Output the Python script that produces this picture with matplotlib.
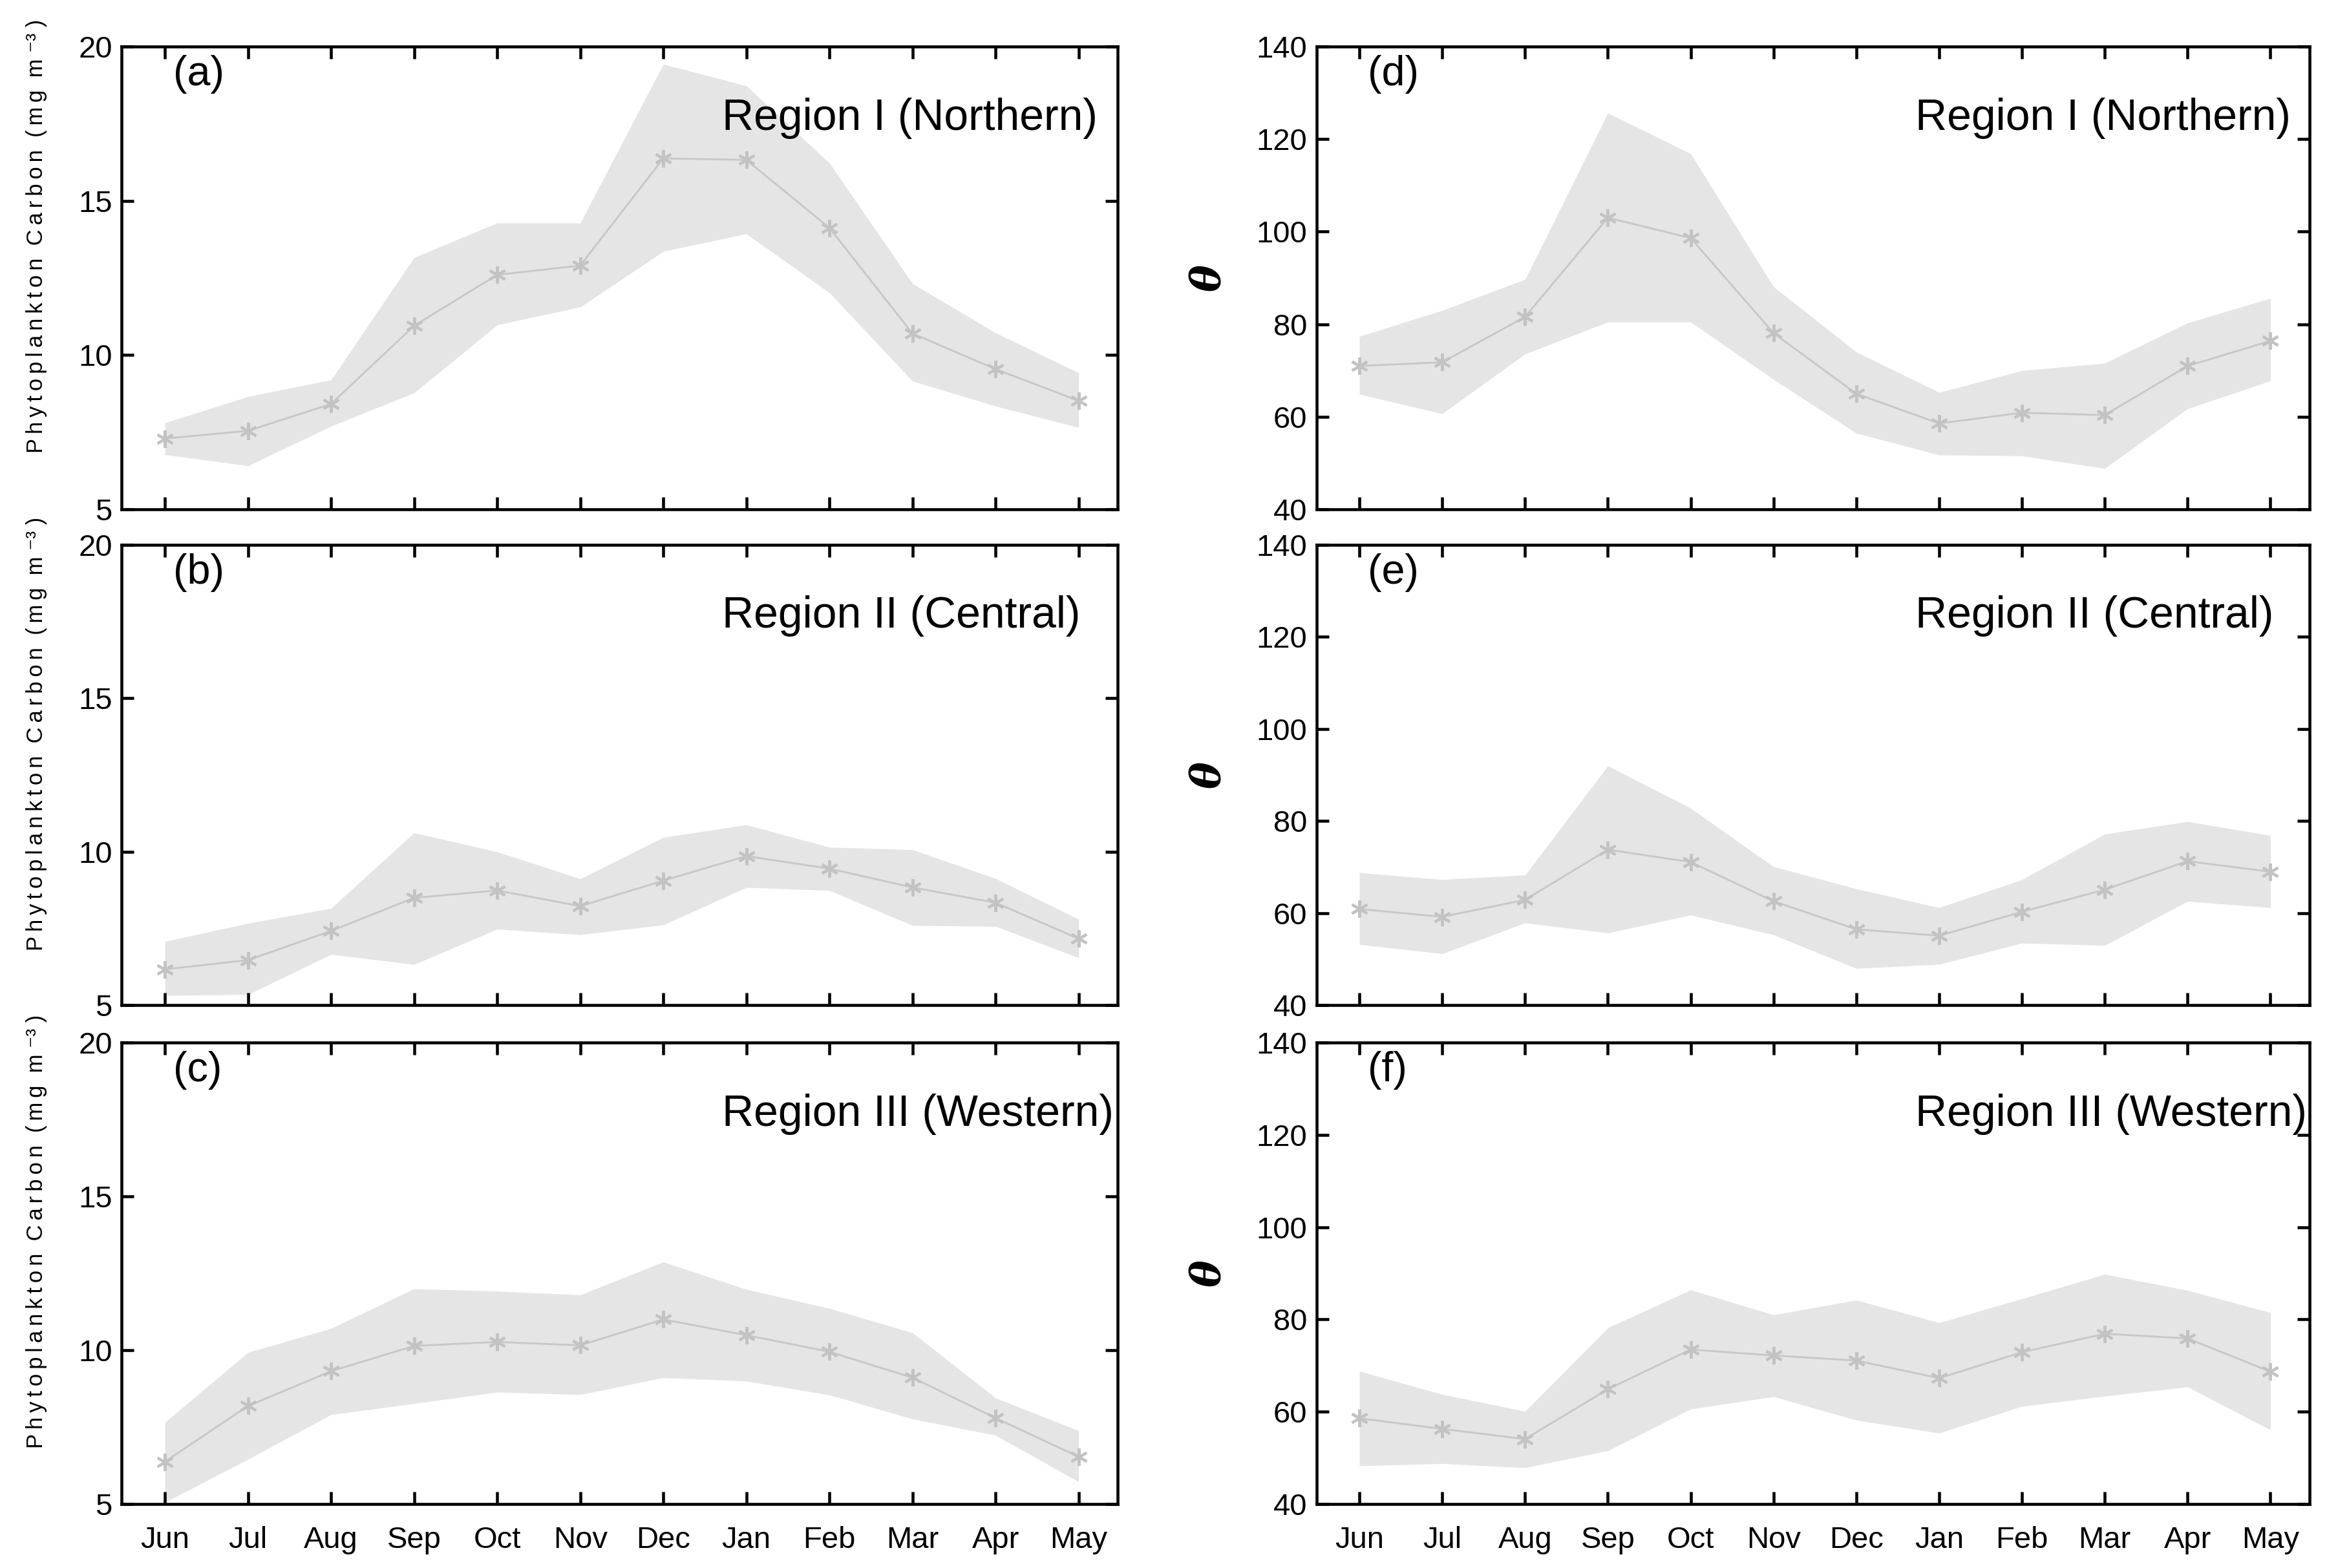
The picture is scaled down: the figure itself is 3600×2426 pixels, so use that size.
import matplotlib
matplotlib.use("Agg")
import matplotlib.pyplot as plt

plt.rcParams['font.family'] = ['Liberation Sans', 'DejaVu Sans']

months = ['Jun', 'Jul', 'Aug', 'Sep', 'Oct', 'Nov', 'Dec', 'Jan', 'Feb', 'Mar', 'Apr', 'May']
regions = ['Region I (Northern)', 'Region II (Central)', 'Region III (Western)']

# phytoplankton carbon, mean and envelope
carbon_mean_1 = [7.3, 7.55, 8.42, 10.95, 12.6, 12.9, 16.37, 16.32, 14.12, 10.7, 9.55, 8.52]
carbon_up_1 = [7.81, 8.66, 9.2, 13.16, 14.28, 14.28, 19.42, 18.72, 16.22, 12.32, 10.72, 9.43]
carbon_lo_1 = [6.78, 6.42, 7.7, 8.78, 10.98, 11.56, 13.36, 13.93, 12.02, 9.16, 8.35, 7.66]

carbon_mean_2 = [6.17, 6.47, 7.42, 8.5, 8.74, 8.23, 9.06, 9.86, 9.45, 8.84, 8.34, 7.17]
carbon_up_2 = [7.08, 7.67, 8.16, 10.62, 10.0, 9.12, 10.47, 10.88, 10.15, 10.07, 9.13, 7.8]
carbon_lo_2 = [5.32, 5.35, 6.66, 6.33, 7.48, 7.3, 7.62, 8.84, 8.74, 7.6, 7.57, 6.55]

carbon_mean_3 = [6.38, 8.19, 9.32, 10.14, 10.27, 10.16, 11.0, 10.49, 9.95, 9.11, 7.8, 6.54]
carbon_up_3 = [7.66, 9.93, 10.71, 12.0, 11.92, 11.8, 12.87, 11.98, 11.36, 10.57, 8.45, 7.39]
carbon_lo_3 = [5.06, 6.46, 7.91, 8.27, 8.64, 8.56, 9.11, 9.0, 8.55, 7.77, 7.24, 5.73]

# theta, mean and envelope
theta_mean_1 = [71.0, 71.8, 81.6, 103.0, 98.6, 78.1, 65.0, 58.6, 60.9, 60.4, 71.0, 76.4]
theta_up_1 = [77.4, 83.0, 89.7, 125.6, 116.8, 88.1, 74.0, 65.3, 70.0, 71.6, 80.3, 85.6]
theta_lo_1 = [64.9, 60.7, 73.6, 80.5, 80.5, 68.1, 56.5, 51.8, 51.6, 48.9, 61.8, 67.8]

theta_mean_2 = [60.9, 59.2, 62.9, 73.8, 71.1, 62.6, 56.5, 55.1, 60.3, 65.1, 71.3, 69.0]
theta_up_2 = [68.8, 67.3, 68.3, 92.0, 82.8, 70.1, 65.3, 61.2, 67.3, 77.2, 79.9, 76.9]
theta_lo_2 = [53.2, 51.2, 57.9, 55.7, 59.6, 55.3, 48.0, 48.9, 53.5, 53.0, 62.6, 61.2]

theta_mean_3 = [58.6, 56.3, 54.1, 64.9, 73.5, 72.2, 71.1, 67.3, 72.9, 76.9, 75.9, 68.7]
theta_up_3 = [68.8, 63.8, 60.1, 78.2, 86.4, 81.0, 84.2, 79.3, 84.5, 89.8, 86.3, 81.5]
theta_lo_3 = [48.3, 48.8, 47.9, 51.6, 60.6, 63.3, 58.2, 55.4, 61.2, 63.4, 65.4, 56.1]

carbon = [(carbon_mean_1, carbon_up_1, carbon_lo_1),
          (carbon_mean_2, carbon_up_2, carbon_lo_2),
          (carbon_mean_3, carbon_up_3, carbon_lo_3)]
theta = [(theta_mean_1, theta_up_1, theta_lo_1),
         (theta_mean_2, theta_up_2, theta_lo_2),
         (theta_mean_3, theta_up_3, theta_lo_3)]

fig = plt.figure(figsize=(12, 8.0867), dpi=300)

rows_bottom = [0.675, 0.3589, 0.0407]
rows_height = [0.2955, 0.2936, 0.2945]
x = list(range(len(months)))
star = (6, 2, 0)

# letter-spaced y label like the original
sp = '\u2009'
ylab_carbon = '  '.join(sp.join(w) for w in ['Phytoplankton', 'Carbon', '(mg', 'm']) + \
    ' \u207b\u00b3 )'


def draw(ax, mean, up, lo, ylim, yticks, label, region):
    ax.fill_between(x, lo, up, color='#e5e5e5', linewidth=0)
    ax.plot(x, mean, color='#c8c8c8', linewidth=0.7, marker=star,
            markersize=6.5, markeredgewidth=1.0, markeredgecolor='#c3c3c3')
    ax.set_xlim(-0.52, 11.47)
    ax.set_ylim(*ylim)
    ax.set_yticks(yticks)
    ax.set_xticks(x)
    ax.tick_params(direction='in', top=True, right=True, length=4.5, width=1.1,
                   labelsize=11.3)
    for s in ax.spines.values():
        s.set_linewidth(1.1)
    ax.text(0.052, 0.94, label, transform=ax.transAxes, fontsize=15.5,
            ha='left', va='center')
    ax.text(0.603, 0.845, region, transform=ax.transAxes, fontsize=16.3,
            ha='left', va='center')
    return ax


labels_left = ['(a)', '(b)', '(c)']
labels_right = ['(d)', '(e)', '(f)']

for i in range(3):
    axl = fig.add_axes([0.0523, rows_bottom[i], 0.428, rows_height[i]])
    m, u, l = carbon[i]
    draw(axl, m, u, l, (5, 20), [5, 10, 15, 20], labels_left[i], regions[i])
    axl.set_ylabel(ylab_carbon, fontsize=8.3)
    axl.yaxis.set_label_coords(-0.075, 0.59)

    axr = fig.add_axes([0.5657, rows_bottom[i], 0.4267, rows_height[i]])
    m, u, l = theta[i]
    draw(axr, m, u, l, (40, 140), [40, 60, 80, 100, 120, 140], labels_right[i], regions[i])
    axr.set_ylabel('\u03b8', fontsize=15, fontweight='bold', style='italic',
                   family=['DejaVu Serif'], labelpad=10)

    for ax in (axl, axr):
        if i < 2:
            ax.set_xticklabels([])
        else:
            ax.set_xticklabels(months)
            ax.tick_params(axis='x', pad=8)

fig.savefig('out.png', dpi=300)
